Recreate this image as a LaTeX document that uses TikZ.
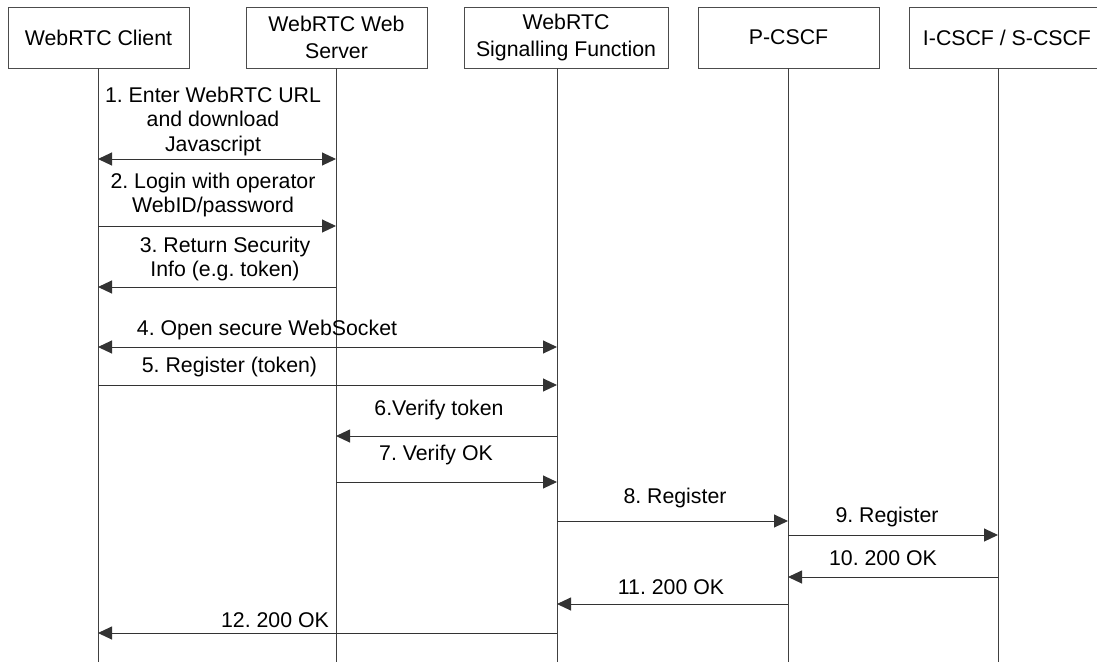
\documentclass[tikz,border=0pt]{standalone}
\usepackage{fontspec}
\setmainfont{Liberation Sans}
\usetikzlibrary{arrows.meta}
\frenchspacing
\begin{document}
\begin{tikzpicture}[x=1pt,y=-1pt,
  ent/.style={draw=black!70, line width=1pt, minimum height=61pt, align=center,
    font=\fontsize{21.3}{27}\selectfont, inner sep=0pt},
  life/.style={draw=black!75, line width=1pt},
  tip/.tip={Triangle[length=14pt,width=13pt]},
  msg/.style={draw=black!80, line width=1pt, -tip},
  dmsg/.style={draw=black!80, line width=1pt, tip-tip},
  lbl/.style={align=center, font=\fontsize{21.3}{24.5}\selectfont, inner sep=0pt}]
\useasboundingbox (0,0) rectangle (1097,662);

% entities
\node[ent, minimum width=181pt] (cl) at (98.5,37.5) {WebRTC Client};
\node[ent, minimum width=181pt] (ws) at (336.5,37.5) {WebRTC Web\\Server};
\node[ent, minimum width=204pt] (sf) at (566,37.5) {WebRTC\\Signalling Function};
\node[ent, minimum width=181pt] (pc) at (788.5,37.5) {P-CSCF};
\node[ent, minimum width=196pt] (ic) at (1007,37.5) {I-CSCF / S-CSCF};

% lifelines
\foreach \n/\x in {cl/98, ws/336, sf/557, pc/788, ic/998} {
  \coordinate (\n-t) at (\x,68);
  \coordinate (\n-b) at (\x,662);
  \draw[life] (\n-t) -- (\n-b);
}

% messages
\node[lbl] (m1) at (213,121) {1. Enter WebRTC URL\\and download\\Javascript};
\draw[dmsg] (cl-t |- 0,159) -- (ws-t |- 0,159);

\node[lbl] (m2) at (213,195) {2. Login with operator\\WebID/password};
\draw[msg] (cl-t |- 0,226) -- (ws-t |- 0,226);

\node[lbl] (m3) at (225,259) {3. Return Security\\Info (e.g. token)};
\draw[msg] (ws-t |- 0,287) -- (cl-t |- 0,287);

\node[lbl] (m4) at (267,330) {4. Open secure WebSocket};
\draw[dmsg] (cl-t |- 0,347) -- (sf-t |- 0,347);

\node[lbl] (m5) at (229.5,367) {5. Register (token)};
\draw[msg] (cl-t |- 0,385) -- (sf-t |- 0,385);

\node[lbl] (m6) at (439,410) {6.Verify token};
\draw[msg] (sf-t |- 0,436) -- (ws-t |- 0,436);

\node[lbl] (m7) at (436,455) {7. Verify OK};
\draw[msg] (ws-t |- 0,482) -- (sf-t |- 0,482);

\node[lbl] (m8) at (675,498) {8. Register};
\draw[msg] (sf-t |- 0,521) -- (pc-t |- 0,521);

\node[lbl] (m9) at (887,517) {9. Register};
\draw[msg] (pc-t |- 0,535) -- (ic-t |- 0,535);

\node[lbl] (m10) at (883,558) {10. 200 OK};
\draw[msg] (ic-t |- 0,577) -- (pc-t |- 0,577);

\node[lbl] (m11) at (671,587) {11. 200 OK};
\draw[msg] (pc-t |- 0,604) -- (sf-t |- 0,604);

\node[lbl] (m12) at (275,620) {12. 200 OK};
\draw[msg] (sf-t |- 0,633) -- (cl-t |- 0,633);
\end{tikzpicture}
\end{document}
